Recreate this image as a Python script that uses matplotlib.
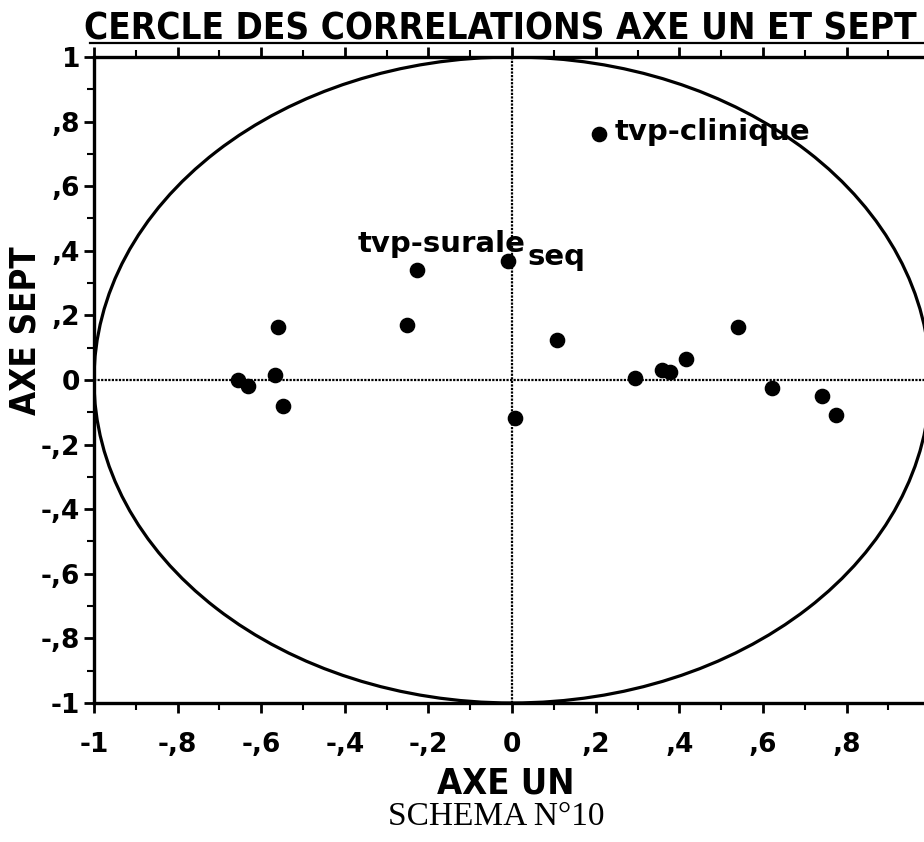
import matplotlib.pyplot as plt
import matplotlib.patches as mpatches
from matplotlib.lines import Line2D
import numpy as np

# coordinates (axe un, axe sept)
axe_un = [0.208, -0.227, -0.010, -0.252, 0.108, -0.560, -0.567, -0.655,
          -0.632, -0.548, 0.007, 0.294, 0.359, 0.378, 0.416, 0.541,
          0.622, 0.742, 0.775]
axe_sept = [0.762, 0.341, 0.368, 0.171, 0.124, 0.164, 0.015, 0.000,
            -0.018, -0.080, -0.118, 0.006, 0.031, 0.025, 0.065, 0.164,
            -0.025, -0.050, -0.108]
names = ['tvp-clinique', 'tvp-surale', 'seq']

tick_vals = [-1, -0.8, -0.6, -0.4, -0.2, 0, 0.2, 0.4, 0.6, 0.8, 1]
tick_labels = ['-1', '-,8', '-,6', '-,4', '-,2', '0', ',2', ',4', ',6', ',8', '1']

bold = {'family': ['DejaVu Sans'], 'weight': 'bold'}
narrow = {'family': ['DejaVu Sans'], 'weight': 'bold', 'stretch': 'condensed'}

fig = plt.figure(figsize=(9.24, 8.42), dpi=100)
ax = fig.add_axes([0.1017, 0.1651, 0.905, 0.7672])

ax.set_xlim(-1, 1)
ax.set_ylim(-1, 1)

circle = mpatches.Circle((0, 0), 1, fill=False, lw=2.3, color='black')
ax.add_patch(circle)

ax.axhline(0, color='black', lw=1.6, ls=(0, (1, 0.6)))
ax.axvline(0, color='black', lw=1.6, ls=(0, (1, 0.6)))

ax.scatter(axe_un, axe_sept, s=105, color='black', zorder=3)

# labels for the three named points
ax.text(0.246, 0.742, names[0], fontsize=21, va='baseline', ha='left', **bold)
ax.text(0.031, 0.396, names[1], fontsize=21, va='baseline', ha='right', **bold)
ax.text(0.036, 0.356, names[2], fontsize=21, va='baseline', ha='left', **bold)

for side in ['top', 'left', 'bottom']:
    ax.spines[side].set_linewidth(2.4)
ax.spines['right'].set_visible(False)

ax.set_xticks(tick_vals)
ax.set_xticklabels(tick_labels, fontsize=19, **bold)
ax.set_yticks(tick_vals)
ax.set_yticklabels(tick_labels, fontsize=19, **bold)
ax.set_xticks(np.arange(-0.9, 1.0, 0.2), minor=True)
ax.set_yticks(np.arange(-0.9, 1.0, 0.2), minor=True)
ax.tick_params(axis='both', which='major', length=7, width=2, direction='out')
ax.tick_params(axis='both', which='minor', length=5, width=1.5, direction='out')
ax.tick_params(axis='x', which='major', pad=14)
ax.tick_params(axis='y', which='major', pad=3)
ax.tick_params(axis='x', top=True, which='both')

ax.set_xlabel('AXE UN', fontsize=26, **narrow)
ax.set_ylabel('AXE SEPT', fontsize=25, **narrow)
ax.xaxis.set_label_coords(0.492, -0.098)
ax.yaxis.set_label_coords(-0.062, 0.577)

fig.text(0.541, 0.9525, 'CERCLE DES CORRELATIONS AXE UN ET SEPT', fontsize=26.5,
         ha='center', va='baseline', **narrow)
# underline of the title
fig.add_artist(Line2D([0.097, 1.0], [0.9495, 0.9495], color='black', lw=1.6))
fig.text(0.537, 0.0297, 'SCHEMA N°10', fontsize=24, ha='center', va='center',
         family=['Liberation Serif', 'DejaVu Serif'])

fig.savefig('out.png', dpi=100)
